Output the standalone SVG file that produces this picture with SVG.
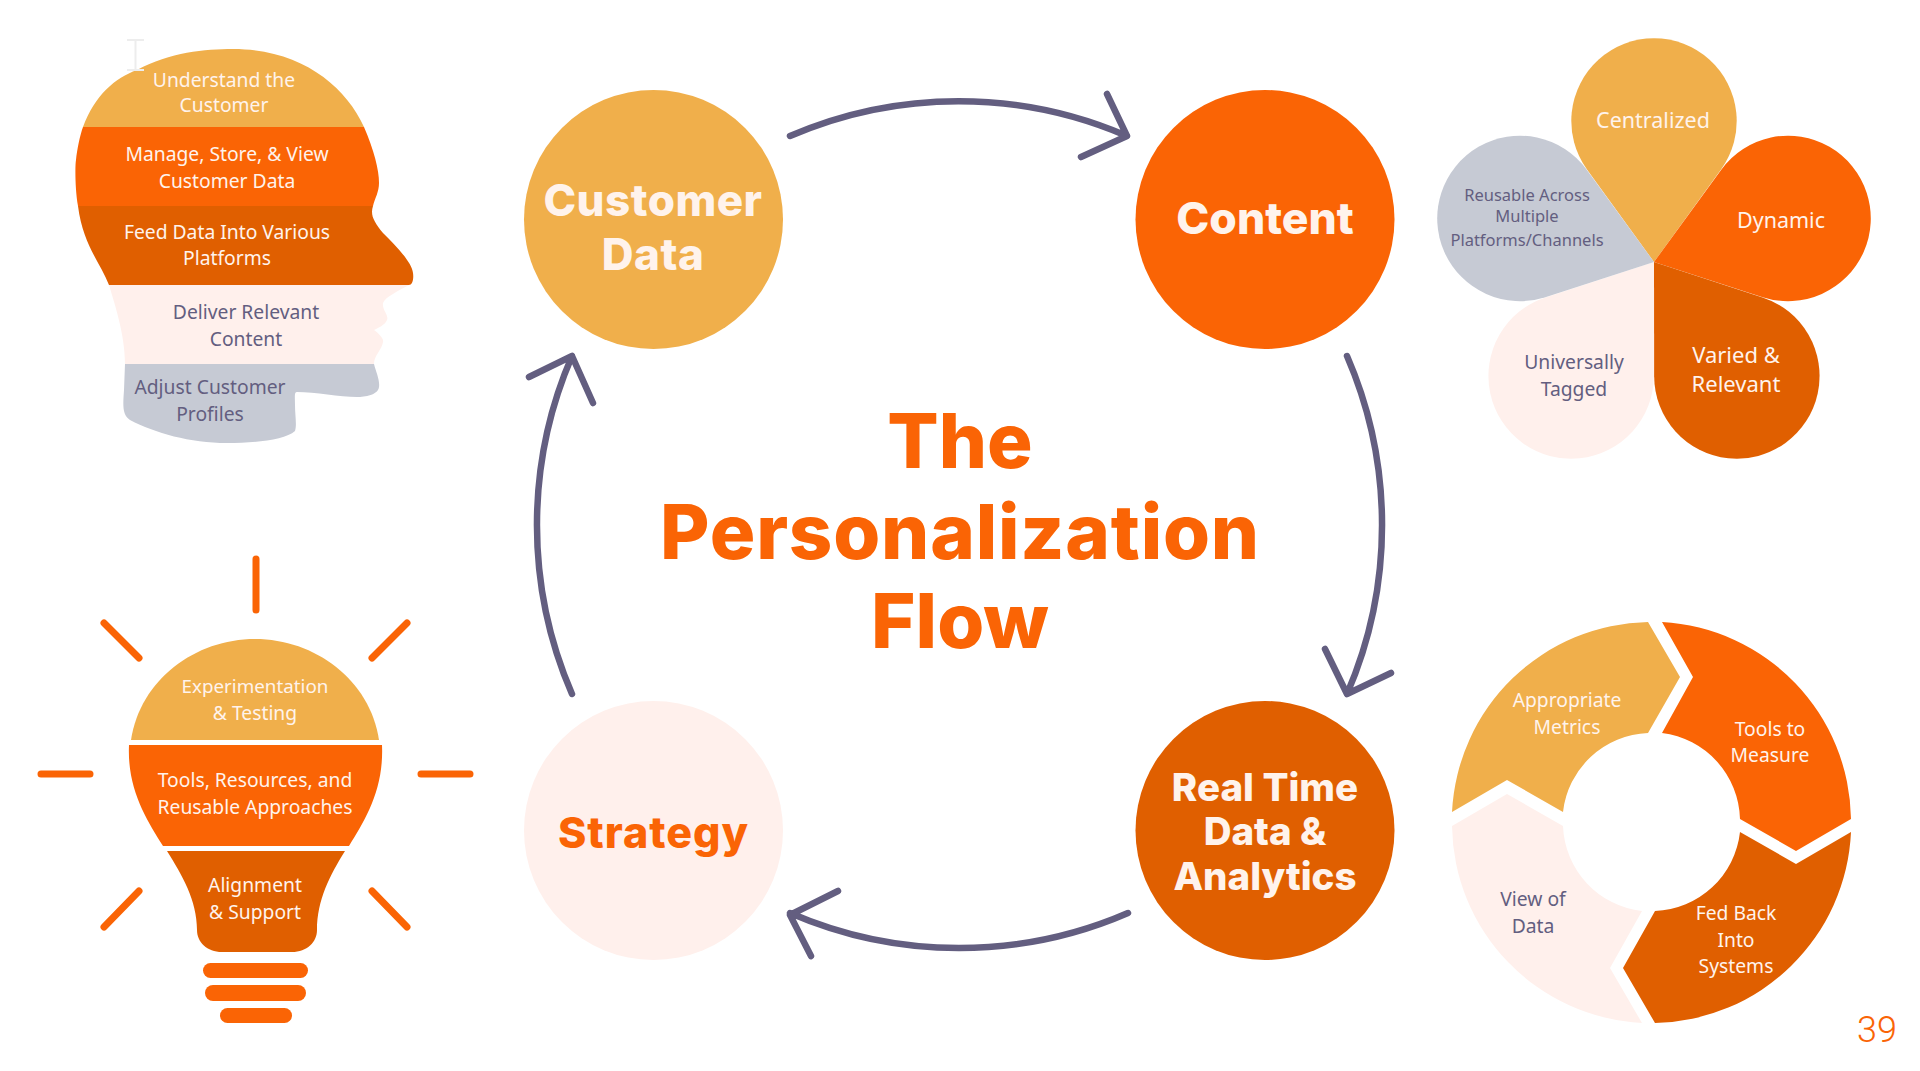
<svg xmlns="http://www.w3.org/2000/svg" xmlns:xlink="http://www.w3.org/1999/xlink" width="1920" height="1071" viewBox="0 0 1920 1071">
<style>
.gold{fill:#F0AF4B}.org{fill:#FA6405}.dk{fill:#E05F00}.pale{fill:#FFF0EC}.gray{fill:#C6CAD4}
text{font-family:"Noto Sans","Liberation Sans",sans-serif;text-anchor:middle;font-size:19.3px}
.w{fill:#FFF3EC}.p{fill:#635E80}
.h{font-family:Inter,"Liberation Sans",sans-serif;font-weight:800}
.ray{stroke:#FA6405;stroke-width:7;stroke-linecap:round;fill:none}
.arrow{stroke:#635E80;stroke-width:6.500;fill:none;stroke-linecap:round;stroke-linejoin:round}
</style>
<defs><path id="petal" d="M1654 262L1587 169.5A82.7 82.7 0 1 1 1721 169.5Z"/></defs>
<rect width="1920" height="1071" fill="#fff"/>
<g id="connectors" class="arrow">
<path d="M790 136A425 425 0 0 1 1127 136M1107 94L1127 136L1081 157"/>
<path d="M1347 356A425 425 0 0 1 1347 694M1325 649L1347 694L1391 673"/>
<path d="M1128 913A425 425 0 0 1 790 913M838 891L790 915L811 956"/>
<path d="M572 694A425 425 0 0 1 572 356M529 377L572 356L593 403"/>
</g>
<g id="node-customer-data"><circle class="gold" cx="653.500" cy="219.500" r="129.500"/><text class="h" x="653" y="216" fill="#FFF3EC" style="font-size:44px;letter-spacing:.5px">Customer</text><text class="h" x="653" y="270" fill="#FFF3EC" style="font-size:44px;letter-spacing:.5px">Data</text></g>
<g id="node-content"><circle class="org" cx="1265" cy="219.500" r="129.500"/><text class="h" x="1265" y="234" fill="#FFF3EC" style="font-size:44.500px">Content</text></g>
<g id="node-analytics"><circle class="dk" cx="1265" cy="830.500" r="129.500"/><text class="h" x="1265" y="801" fill="#FFF3EC" style="font-size:38.500px">Real Time</text><text class="h" x="1265" y="845" fill="#FFF3EC" style="font-size:38.500px">Data &amp;</text><text class="h" x="1265" y="890" fill="#FFF3EC" style="font-size:38.500px">Analytics</text></g>
<g id="node-strategy"><circle class="pale" cx="653.500" cy="830.500" r="129.500"/><text class="h" x="653.500" y="848" fill="#FA6405" style="font-size:43px;letter-spacing:1px">Strategy</text></g>
<g id="title"><text class="h" x="960" y="468" fill="#FA6405" style="font-size:76px">The</text><text class="h" x="960" y="559" fill="#FA6405" style="font-size:76px;letter-spacing:.8px">Personalization</text><text class="h" x="960" y="648" fill="#FA6405" style="font-size:76px">Flow</text></g>
<g id="node-head">
<path class="gold" d="M83 127C95 95 115 78 137 70C170 52 205 49 233 49C300 49 345 85 364 127Z"/>
<path class="org" d="M83 127H364C374 150 379 170 379 183C379 192 375 198 373 206H78C75 190 75 165 76 160C77 150 80 135 83 127Z"/>
<path class="dk" d="M78 206H373C370 215 374 222 383 233C395 245 412 262 413 273C414 280 412 285 409 285H109C100 262 83 245 78 206Z"/>
<path class="pale" d="M109 285H409C400 290 385 297 383 303C382 310 389 315 387 320C385 325 378 328 374 330C378 333 384 338 383 342C382 350 374 355 374 364H125C125 335 115 305 109 285Z"/>
<path class="gray" d="M125 364H374C376 372 380 380 379 387C378 395 365 397 357 397C340 397 315 392 297 392C294 392 295 397 295 405C295 415 297 425 295 431C285 440 255 443 227 443C190 443 155 433 130 420C122 415 123 405 124 390Z"/>
<path d="M127 40H144M135.500 40V70M127 70H144" fill="none" stroke="#EDEDED" stroke-width="2"/>
<text class="w" x="224" y="87">Understand the</text><text class="w" x="224" y="112">Customer</text>
<text class="w" x="227" y="161">Manage, Store, &amp; View</text><text class="w" x="227" y="188">Customer Data</text>
<text class="w" x="227" y="239">Feed Data Into Various</text><text class="w" x="227" y="265">Platforms</text>
<text class="p" x="246" y="319">Deliver Relevant</text><text class="p" x="246" y="346">Content</text>
<text class="p" x="210" y="394">Adjust Customer</text><text class="p" x="210" y="421">Profiles</text>
</g>
<g id="node-bulb">
<path class="ray" d="M256 559V610M104 623L139 658M407 623L372 658M41 774H90M421 774H470M139 891L104 927M372 891L407 927"/>
<path class="gold" d="M131 740C140 680 195 639 255 639C315 639 370 680 379 740Z"/>
<path class="org" d="M129 745H382C384 790 365 820 349 846H163C147 820 127 790 129 745Z"/>
<path class="dk" d="M167 851H345C330 875 317 900 317 930C317 942 307 952 292 952H222C207 952 197 942 197 930C197 900 182 875 167 851Z"/>
<rect class="org" x="203" y="963" width="105" height="15" rx="7.500"/><rect class="org" x="205" y="985" width="101" height="16" rx="8"/><rect class="org" x="220" y="1008" width="72" height="15" rx="7.500"/>
<text class="w" x="255" y="693" style="font-size:18.800px">Experimentation</text><text class="w" x="255" y="720">&amp; Testing</text>
<text class="w" x="255" y="787">Tools, Resources, and</text><text class="w" x="255" y="814">Reusable Approaches</text>
<text class="w" x="255" y="892">Alignment</text><text class="w" x="255" y="919">&amp; Support</text>
</g>
<g id="node-flower">
<use href="#petal" class="gold"/><use href="#petal" class="org" transform="rotate(72 1654 262)"/><use href="#petal" class="dk" transform="rotate(144 1654 262)"/><use href="#petal" class="pale" transform="rotate(216 1654 262)"/><use href="#petal" class="gray" transform="rotate(288 1654 262)"/>
<text class="w" x="1653" y="128" style="font-size:21.500px">Centralized</text><text class="w" x="1781" y="228" style="font-size:21.500px">Dynamic</text>
<text class="w" x="1736" y="363" style="font-size:22px">Varied &amp;</text><text class="w" x="1736" y="392" style="font-size:22px">Relevant</text>
<text class="p" x="1574" y="369">Universally</text><text class="p" x="1574" y="396">Tagged</text>
<text class="p" x="1527" y="201" style="font-size:16.500px">Reusable Across</text><text class="p" x="1527" y="222" style="font-size:16.500px">Multiple</text><text class="p" x="1527" y="246" style="font-size:16.500px">Platforms/Channels</text>
</g>
<g id="node-ring">
<path class="gold" d="M1452 812A200 200 0 0 1 1648 622L1680 677L1648 733A89 89 0 0 0 1563 812L1507 780Z"/>
<path class="org" d="M1662 622A200 200 0 0 1 1851 819L1796 851L1740 819A89 89 0 0 0 1662 733L1693 677Z"/>
<path class="dk" d="M1851 832A200 200 0 0 1 1655 1023L1623 968L1655 911A89 89 0 0 0 1740 832L1796 864Z"/>
<path class="pale" d="M1642 1023A200 200 0 0 1 1452 826L1507 794L1563 826A89 89 0 0 0 1642 911L1610 968Z"/>
<text class="w" x="1567" y="707">Appropriate</text><text class="w" x="1567" y="734">Metrics</text>
<text class="w" x="1770" y="736">Tools to</text><text class="w" x="1770" y="762">Measure</text>
<text class="w" x="1736" y="920">Fed Back</text><text class="w" x="1736" y="947">Into</text><text class="w" x="1736" y="973">Systems</text>
<text class="p" x="1533" y="906">View of</text><text class="p" x="1533" y="933">Data</text>
</g>
<text x="1877" y="1042" fill="#FA6405" style="font-family:Roboto,sans-serif;font-weight:300;font-size:36px">39</text>
</svg>
